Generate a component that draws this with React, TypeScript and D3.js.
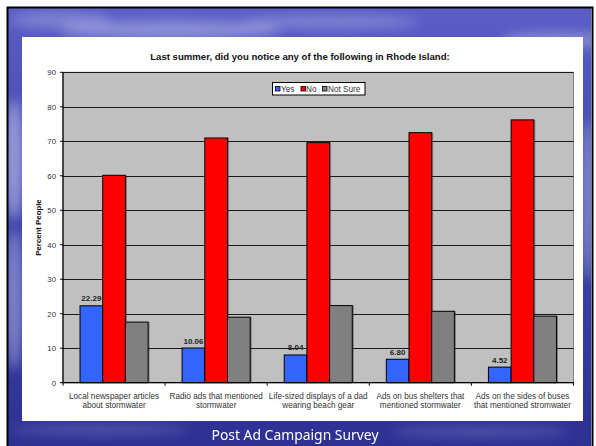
import React from 'react';
import * as d3 from 'd3';

// chart data
const categories: string[][] = [
  ['Local newspaper articles', 'about stormwater'],
  ['Radio ads that mentioned', 'stormwater'],
  ['Life-sized displays of a dad', 'wearing beach gear'],
  ['Ads on bus shelters that', 'mentioned stormwater'],
  ['Ads on the sides of buses', 'that mentioned stromwater'],
];
const seriesNames = ['Yes', 'No', 'Not Sure'];
const yesValues = [22.29, 10.06, 8.04, 6.8, 4.52];
const noValues = [60.14, 70.95, 69.6, 72.5, 76.2];
const notSureValues = [17.57, 18.99, 22.36, 20.7, 19.3];
const yTicks = [0, 10, 20, 30, 40, 50, 60, 70, 80, 90];

const colors: Record<string, string> = { Yes: '#3366FF', No: '#FF0000', 'Not Sure': '#808080' };

const W = 596;
const H = 446;
const plot = { left: 63, right: 573.5, top: 72.3, bottom: 382.7 };
const font = '"Liberation Sans", Arial, sans-serif';

const App: React.FC = () => {
  const x = d3.scaleBand<number>()
    .domain(d3.range(categories.length))
    .range([plot.left, plot.right]);
  const xSub = d3.scaleBand<string>()
    .domain(seriesNames)
    .range([0, x.bandwidth()])
    .paddingInner(0)
    .paddingOuter(0.75);
  const y = d3.scaleLinear().domain([0, 90]).range([plot.bottom, plot.top]);

  const rows = categories.map((c, i) => ({
    i,
    values: [
      { key: 'Yes', v: yesValues[i] },
      { key: 'No', v: noValues[i] },
      { key: 'Not Sure', v: notSureValues[i] },
    ],
  }));

  const legendItems = [
    { key: 'Yes', sx: 275, tx: 281 },
    { key: 'No', sx: 300.5, tx: 306 },
    { key: 'Not Sure', sx: 322, tx: 328 },
  ];

  return (
    <svg width={W} height={H} style={{ position: 'absolute', left: 0, top: 0, display: 'block' }}>
      <defs>
        <linearGradient id="sky" x1="0" y1="0" x2="0" y2="1">
          <stop offset="0%" stopColor="#5a5ec6" />
          <stop offset="25%" stopColor="#4b50b8" />
          <stop offset="60%" stopColor="#3a40a6" />
          <stop offset="100%" stopColor="#2c3192" />
        </linearGradient>
        <filter id="blur" x="-50%" y="-50%" width="200%" height="200%">
          <feGaussianBlur stdDeviation="6" />
        </filter>
        <clipPath id="slideClip">
          <rect x={8} y={8} width={583} height={438} />
        </clipPath>
      </defs>

      <rect width={W} height={H} fill="#ffffff" />
      {/* slide background */}
      <g clipPath="url(#slideClip)">
        <rect x={8} y={8} width={583} height={438} fill="url(#sky)" />
        <g filter="url(#blur)" fill="#c8ccef">
          <ellipse cx={170} cy={30} rx={110} ry={10} opacity={0.45} />
          <ellipse cx={330} cy={22} rx={90} ry={7} opacity={0.35} />
          <ellipse cx={560} cy={40} rx={60} ry={8} opacity={0.4} />
          <ellipse cx={60} cy={20} rx={50} ry={8} opacity={0.35} />
          <ellipse cx={14} cy={160} rx={10} ry={60} opacity={0.6} />
          <ellipse cx={14} cy={300} rx={9} ry={70} opacity={0.5} />
          <ellipse cx={588} cy={200} rx={8} ry={80} opacity={0.45} />
          <ellipse cx={100} cy={430} rx={90} ry={5} opacity={0.25} />
          <ellipse cx={480} cy={432} rx={90} ry={5} opacity={0.25} />
        </g>
      </g>
      <rect x={7.5} y={7.5} width={585} height={445} fill="none" stroke="#000" strokeWidth={2} />

      {/* chart area */}
      <rect x={22} y={37} width={561} height={384} fill="#ffffff" />
      <text x={300} y={60} textAnchor="middle" fontFamily={font} fontWeight="bold" fontSize={9.6} fill="#111">
        Last summer, did you notice any of the following in Rhode Island:
      </text>

      {/* plot area */}
      <rect x={plot.left} y={plot.top} width={plot.right - plot.left} height={plot.bottom - plot.top}
        fill="#C0C0C0" stroke="#808080" strokeWidth={1} />
      {yTicks.filter(t => t > 0).map(t => (
        <line key={t} x1={plot.left} x2={plot.right} y1={Math.round(y(t)) + 0.5} y2={Math.round(y(t)) + 0.5}
          stroke="#1a1a1a" strokeWidth={1} />
      ))}

      {/* legend */}
      <rect x={272.5} y={82.5} width={92.5} height={12.5} fill="#fff" stroke="#000" strokeWidth={1} />
      {legendItems.map(d => (
        <g key={d.key}>
          <rect x={d.sx + 0.5} y={86.5} width={4.5} height={4.5} fill={colors[d.key]} stroke="#000" strokeWidth={0.8} />
          <text x={d.tx} y={91.8} fontFamily={font} fontSize={8.2} fill="#333">{d.key}</text>
        </g>
      ))}

      {/* bars */}
      {rows.map(r => (
        <g key={r.i} transform={`translate(${x(r.i)},0)`}>
          {r.values.map(b => (
            <g key={b.key}>
              <rect x={(xSub(b.key) as number) + 1.5} y={y(b.v)} width={xSub.bandwidth()} height={plot.bottom - y(b.v)}
                fill="#000" opacity={0.35} />
              <rect x={xSub(b.key)} y={y(b.v)} width={xSub.bandwidth()} height={plot.bottom - y(b.v)}
                fill={colors[b.key]} stroke="#000" strokeWidth={1} />
            </g>
          ))}
          <text x={(xSub('Yes') as number) + xSub.bandwidth() / 2} y={y(r.values[0].v) - 4.5}
            textAnchor="middle" fontFamily={font} fontWeight="bold" fontSize={8} fill="#222">
            {r.values[0].v.toFixed(2)}
          </text>
        </g>
      ))}

      {/* axes */}
      <line x1={plot.left} x2={plot.left} y1={plot.top} y2={plot.bottom} stroke="#000" strokeWidth={1.2} />
      <line x1={plot.left} x2={plot.right} y1={plot.bottom} y2={plot.bottom} stroke="#000" strokeWidth={1.2} />
      {yTicks.map(t => (
        <g key={t}>
          <line x1={plot.left - 3} x2={plot.left} y1={y(t)} y2={y(t)} stroke="#000" />
          <text x={56} y={y(t) + 2.8} textAnchor="end" fontFamily={font} fontSize={7.8} fill="#333">{t}</text>
        </g>
      ))}
      {d3.range(categories.length + 1).map(i => {
        const xx = i < categories.length ? (x(i) as number) : plot.right;
        return <line key={i} x1={xx} x2={xx} y1={plot.bottom} y2={plot.bottom + 3} stroke="#000" />;
      })}
      {categories.map((c, i) => (
        <text key={i} textAnchor="middle" fontFamily={font} fontSize={8.2} fill="#333">
          {c.map((line, j) => (
            <tspan key={j} x={(x(i) as number) + x.bandwidth() / 2} y={398.7 + j * 9.7}>{line}</tspan>
          ))}
        </text>
      ))}
      <text transform={`translate(41,${(plot.top + plot.bottom) / 2}) rotate(-90)`} textAnchor="middle"
        fontFamily={font} fontWeight="bold" fontSize={7.8} fill="#111">
        Percent People
      </text>

      {/* slide footer */}
      <text x={211.5} y={440} fontFamily='"Noto Sans", "DejaVu Sans", sans-serif' fontSize={14.5} fill="#ffffff"
        textLength={167} lengthAdjust="spacingAndGlyphs">
        Post Ad Campaign Survey
      </text>
    </svg>
  );
};

export default App;
